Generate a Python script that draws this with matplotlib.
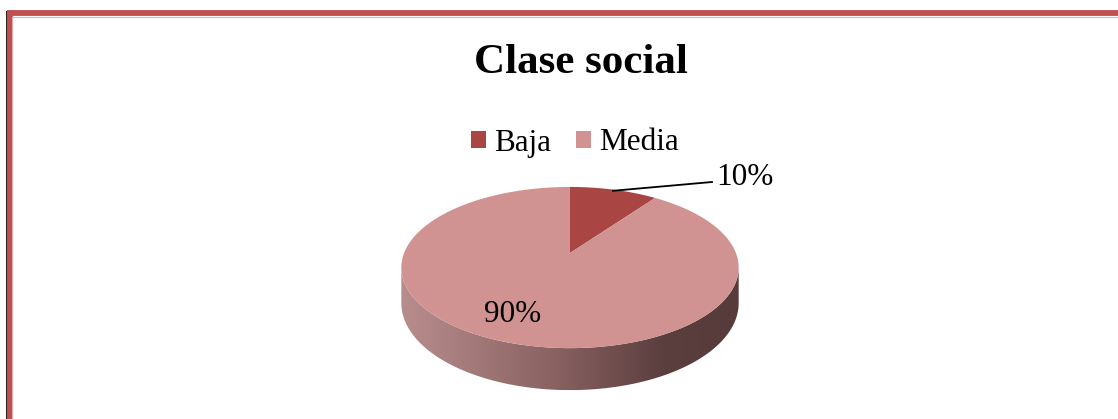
import numpy as np
import matplotlib.pyplot as plt
from matplotlib.patches import Polygon, Patch
from matplotlib.colors import LinearSegmentedColormap

# data
labels = ['Baja', 'Media']
values = [10, 90]
colors = ['#A94644', '#D09392']
title = 'Clase social'

serif = ['Liberation Serif', 'DejaVu Serif']

W, H = 1118, 419
fig = plt.figure(figsize=(W / 100, H / 100), dpi=100)
ax = fig.add_axes([0, 0, 1, 1])

# frame of the chart area (red border, top + left)
ax.plot([6.5, 6.5], [11, H], color='black', lw=1.2, solid_capstyle='butt')
ax.plot([9.5, 9.5], [11, H], color='#C0504D', lw=4.2, solid_capstyle='butt')
ax.plot([7, W], [13.5, 13.5], color='#C0504D', lw=4.2, solid_capstyle='butt')
ax.plot([12, W], [16.8, 16.8], color='#E2B4B3', lw=0.8)
ax.plot([12.3, 12.3], [17, H], color='#E2A8A7', lw=0.8)

# perspective pie setup
s = 0.47
c = np.sqrt(1 - s ** 2)
D = 5.545 * c
F = 812
cx, cy = 570, 253
depth = 0.235


def proj(th, r=1.0, z=0.0):
    x = r * np.cos(th)
    y = r * np.sin(th)
    d = D + y * c
    return cx + F * x / d, cy - F * (y * s + z * c) / d


# side wall (front half)
a = np.arcsin(c / D)
th = np.linspace(np.pi + a, 2 * np.pi - a, 300)
tx, ty = proj(th)
bx, by = proj(th[::-1], z=-depth)
side = Polygon(np.column_stack([np.r_[tx, bx], np.r_[ty, by]]),
               closed=True, facecolor='none', edgecolor='none')
ax.add_patch(side)
grad = LinearSegmentedColormap.from_list(
    'side', [(0, '#B98D8D'), (0.45, '#8A6262'), (0.78, '#5B3E3E'), (1, '#573B3B')])
img = ax.imshow(np.linspace(0, 1, 256)[None, :], cmap=grad, aspect='auto',
                extent=(tx.min(), tx.max(), by.max(), ty.min()), zorder=2)
img.set_clip_path(side)

# top slices, clockwise from 12 o'clock
total = sum(values)
start = np.pi / 2
mids = []
for v, col in zip(values, colors):
    end = start - 2 * np.pi * v / total
    arc = np.linspace(start, end, 200)
    px, py = proj(arc)
    poly = Polygon(np.column_stack([np.r_[cx, px], np.r_[cy, py]]), closed=True,
                   facecolor=col, edgecolor='none', zorder=3)
    ax.add_patch(poly)
    mids.append((start + end) / 2)
    start = end

# labels
lx, ly = proj(mids[0], r=0.98)
ax.plot([lx, 712], [ly, 182], color='black', lw=1.3, zorder=4)
ax.text(716, 185, f'{values[0]}%', fontsize=22.5, family=serif,
        ha='left', va='baseline', zorder=5)
ax.text(484, 322, f'{values[1]}%', fontsize=22.5, family=serif,
        ha='left', va='baseline', zorder=5)

ax.set_xlim(0, W)
ax.set_ylim(H, 0)
ax.axis('off')

# title
fig.text(581 / W, 1 - 73 / H, title, fontsize=31, fontweight='bold',
         family=serif, ha='center', va='baseline')

# legend
handles = [Patch(facecolor=col, edgecolor='none') for col in colors]
fig.legend(handles, labels, loc='center', bbox_to_anchor=(575 / W, 1 - 143 / H),
           ncol=2, frameon=False, prop={'family': serif, 'size': 22.5},
           handlelength=0.48, handleheight=0.48, handletextpad=0.25,
           columnspacing=0.8, borderpad=0)

fig.savefig('out.png', dpi=100)
